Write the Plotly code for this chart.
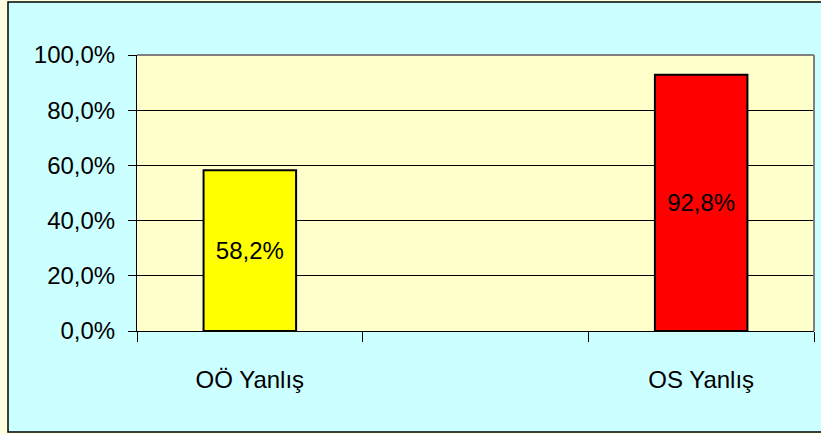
import plotly.graph_objects as go

categories = ["OÖ Yanlış", " ", "OS Yanlış"]
values = [58.2, None, 92.8]
bar_colors = ["#FFFF00", "#FFFFFF", "#FF0000"]
labels = ["58,2%", "", "92,8%"]
y_ticks = [0, 20, 40, 60, 80, 100]
y_tick_text = ["0,0%", "20,0%", "40,0%", "60,0%", "80,0%", "100,0%"]

W, H = 821, 434
L, R, T, B = 137, 7, 55, 103
pw, ph = W - L - R, H - T - B

def px(x):
    return (x - L) / pw

def py(y):
    return (H - B - y) / ph

FONT = "Liberation Sans, Arial"
FS = 24

fig = go.Figure()
fig.add_trace(go.Bar(
    x=categories, y=values,
    marker=dict(color=bar_colors, line=dict(color="black", width=2)),
    width=0.41,
    text=labels, textposition="inside", insidetextanchor="middle",
    textfont=dict(family=FONT, size=FS, color="black"),
    textangle=0,
    hoverinfo="skip",
))

fig.update_layout(
    width=W, height=H,
    margin=dict(l=L, r=R, t=T, b=B, pad=0),
    paper_bgcolor="#FFFFE0",
    plot_bgcolor="#FFFFCC",
    separators=",.",
    showlegend=False,
    font=dict(family=FONT, size=FS, color="black"),
    shapes=[
        dict(type="rect", xref="paper", yref="paper",
             x0=px(8), x1=px(825), y0=py(432), y1=py(2),
             fillcolor="#CCFFFF", line=dict(color="black", width=1.5), layer="below"),
        dict(type="rect", xref="paper", yref="paper",
             x0=0, x1=1, y0=0, y1=1,
             fillcolor="#FFFFCC", line=dict(width=0), layer="below"),
        dict(type="line", xref="paper", yref="paper", x0=0, x1=1, y0=1, y1=1,
             line=dict(color="#808080", width=2), layer="above"),
        dict(type="line", xref="paper", yref="paper", x0=1, x1=1, y0=0, y1=1,
             line=dict(color="#808080", width=2), layer="above"),
    ],
)

fig.update_xaxes(
    type="category", tickson="boundaries",
    ticks="outside", ticklen=10, tickcolor="black", tickwidth=1,
    showline=True, linecolor="black", linewidth=1,
    showgrid=False, tickfont=dict(family=FONT, size=FS, color="black"),
    ticklabelstandoff=27, fixedrange=True,
)
fig.update_yaxes(
    range=[0, 100], tickvals=y_ticks, ticktext=y_tick_text,
    ticks="outside", ticklen=8, tickcolor="black", tickwidth=1,
    showline=True, linecolor="black", linewidth=1,
    showgrid=True, gridcolor="black", gridwidth=1, zeroline=False,
    tickfont=dict(family=FONT, size=FS, color="black"), fixedrange=True,
    ticklabelstandoff=8,
)

fig.write_html("out.html", config={"displayModeBar": False},
               post_script="document.body.style.margin='0';document.body.style.overflow='hidden';")
